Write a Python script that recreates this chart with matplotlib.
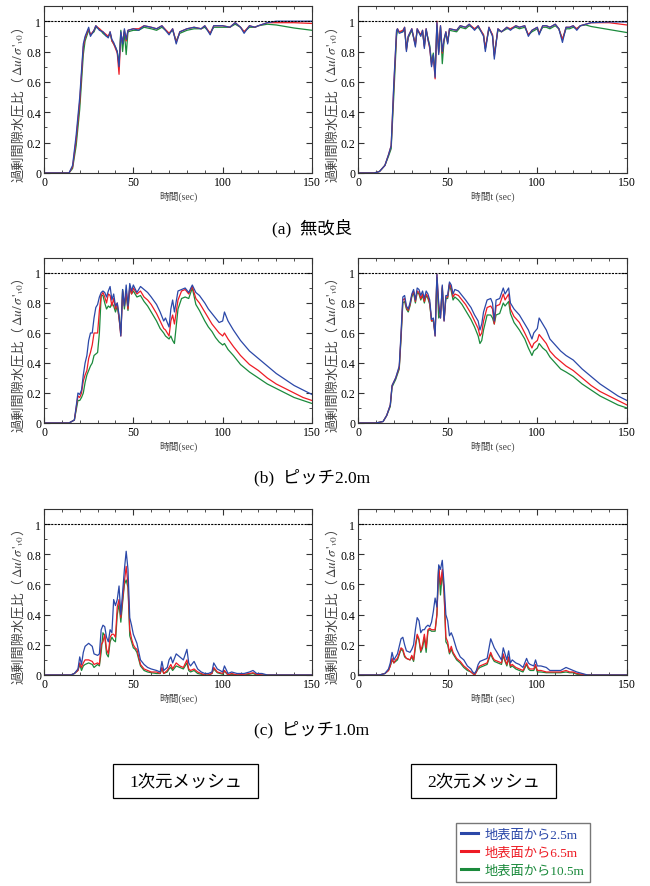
import matplotlib
matplotlib.use("Agg")
import matplotlib.pyplot as plt
from matplotlib.lines import Line2D
from matplotlib.patches import Rectangle
from matplotlib.ticker import MultipleLocator

plt.rcParams['font.family'] = ['Liberation Serif', 'Noto Sans CJK JP', 'DejaVu Sans']
plt.rcParams['mathtext.fontset'] = 'stix'

# series labels / colours
labels = ['地表面から2.5m', '地表面から6.5m', '地表面から10.5m']
colors = ['#2b48a8', '#ee1c25', '#1b8a3c']

# (a) 1D mesh, no improvement
t_a1 = [0, 14, 16, 18, 20, 22, 23, 25, 26, 28,
        29, 31, 33, 35, 36, 37, 38, 39, 40, 41,
        42, 43, 44, 45, 46, 47, 50, 53, 56, 60,
        63, 66, 70, 72, 74, 76, 80, 84, 88, 90,
        93, 95, 100, 104, 107, 110, 112, 115, 118, 120,
        125, 130, 140, 150]
a1_25 = [0, 0, 0.05, 0.25, 0.50, 0.85, 0.90, 0.96, 0.90, 0.94,
         0.97, 0.94, 0.93, 0.90, 0.89, 0.93, 0.88, 0.86, 0.83, 0.80,
         0.70, 0.93, 0.85, 0.95, 0.88, 0.94, 0.95, 0.94, 0.97, 0.96,
         0.95, 0.97, 0.91, 0.95, 0.85, 0.93, 0.95, 0.96, 0.95, 0.97,
         0.91, 0.97, 0.97, 0.96, 0.99, 0.96, 0.92, 0.97, 0.96, 0.97,
         0.99, 1.00, 1.00, 1.00]
a1_65 = [0, 0, 0.04, 0.22, 0.47, 0.83, 0.89, 0.95, 0.91, 0.94,
         0.97, 0.95, 0.93, 0.91, 0.90, 0.93, 0.87, 0.85, 0.82, 0.79,
         0.65, 0.92, 0.86, 0.94, 0.87, 0.94, 0.95, 0.95, 0.97, 0.96,
         0.95, 0.97, 0.92, 0.95, 0.86, 0.93, 0.95, 0.96, 0.95, 0.97,
         0.92, 0.97, 0.97, 0.96, 0.99, 0.96, 0.93, 0.97, 0.96, 0.97,
         0.99, 0.99, 0.99, 0.985]
a1_105 = [0, 0, 0.03, 0.18, 0.42, 0.78, 0.87, 0.94, 0.91, 0.93,
          0.96, 0.95, 0.92, 0.90, 0.90, 0.92, 0.87, 0.85, 0.83, 0.80,
          0.72, 0.94, 0.80, 0.93, 0.78, 0.93, 0.94, 0.94, 0.96, 0.95,
          0.94, 0.96, 0.92, 0.94, 0.87, 0.92, 0.94, 0.95, 0.95, 0.96,
          0.92, 0.96, 0.96, 0.96, 0.98, 0.96, 0.93, 0.96, 0.96, 0.97,
          0.98, 0.975, 0.955, 0.94]

# (a) 2D mesh, no improvement
t_a2 = [0, 9, 12, 15, 17, 18.5, 20, 21.5, 22, 23,
        25, 26, 27, 28, 30, 32, 33, 35, 36, 37,
        38, 39, 40, 41, 42, 43, 44, 45, 46, 47,
        48, 49, 50, 51, 55, 57, 60, 62, 65, 67,
        70, 71, 73, 75, 76, 78, 80, 83, 85, 88,
        90, 93, 95, 97, 100, 101, 103, 105, 107, 110,
        112, 114, 116, 118, 120, 122, 124, 127, 130, 140,
        150]
a2_25 = [0, 0, 0.01, 0.05, 0.12, 0.18, 0.60, 0.94, 0.95, 0.92,
         0.93, 0.96, 0.80, 0.90, 0.95, 0.83, 0.95, 0.90, 0.94, 0.82,
         0.95, 0.88, 0.83, 0.70, 0.78, 0.63, 0.99, 0.78, 0.97, 0.80,
         0.88, 0.93, 0.85, 0.95, 0.94, 0.97, 0.96, 0.98, 0.94, 0.97,
         0.90, 0.80, 0.96, 0.90, 0.75, 0.95, 0.93, 0.96, 0.94, 0.97,
         0.96, 0.97, 0.90, 0.94, 0.96, 0.91, 0.97, 0.97, 0.96, 0.98,
         0.95, 0.86, 0.96, 0.96, 0.97, 0.94, 0.97, 0.98, 0.99, 0.995,
         0.995]
a2_65 = [0, 0, 0.01, 0.05, 0.12, 0.18, 0.58, 0.93, 0.95, 0.93,
         0.94, 0.96, 0.81, 0.90, 0.95, 0.84, 0.95, 0.91, 0.94, 0.83,
         0.95, 0.88, 0.82, 0.71, 0.77, 0.62, 1.00, 0.79, 0.97, 0.79,
         0.88, 0.93, 0.86, 0.95, 0.94, 0.97, 0.96, 0.98, 0.95, 0.97,
         0.91, 0.82, 0.96, 0.91, 0.77, 0.95, 0.93, 0.96, 0.95, 0.97,
         0.96, 0.97, 0.91, 0.94, 0.96, 0.92, 0.97, 0.97, 0.96, 0.98,
         0.95, 0.88, 0.96, 0.96, 0.97, 0.95, 0.97, 0.98, 0.99, 0.99,
         0.975]
a2_105 = [0, 0, 0.01, 0.05, 0.11, 0.16, 0.52, 0.90, 0.94, 0.93,
          0.93, 0.95, 0.82, 0.89, 0.94, 0.85, 0.94, 0.91, 0.93, 0.84,
          0.94, 0.89, 0.84, 0.73, 0.79, 0.66, 0.97, 0.80, 0.96, 0.72,
          0.87, 0.92, 0.86, 0.94, 0.93, 0.96, 0.95, 0.97, 0.95, 0.96,
          0.91, 0.82, 0.95, 0.91, 0.78, 0.94, 0.93, 0.95, 0.95, 0.96,
          0.95, 0.96, 0.91, 0.93, 0.95, 0.92, 0.96, 0.96, 0.95, 0.97,
          0.95, 0.88, 0.95, 0.95, 0.96, 0.95, 0.97, 0.975, 0.965, 0.945,
          0.925]

# (b) 1D mesh, pitch 2.0m
t_b1 = [0, 14, 17, 19, 20, 21, 22, 23, 24, 25,
        26, 27, 28, 29, 30, 31, 32, 33, 34, 35,
        36, 37, 38, 39, 40, 41, 42, 43, 44, 45,
        46, 47, 48, 49, 50, 52, 54, 56, 58, 60,
        63, 65, 67, 68, 70, 71, 72, 73, 75, 77,
        79, 81, 83, 85, 87, 90, 92, 94, 96, 98,
        100, 101, 103, 106, 110, 115, 120, 125, 130, 135,
        140, 145, 150]
b1_25 = [0, 0, 0.02, 0.20, 0.19, 0.22, 0.32, 0.40, 0.45, 0.55,
         0.60, 0.60, 0.70, 0.77, 0.79, 0.84, 0.87, 0.88, 0.87, 0.84,
         0.88, 0.91, 0.82, 0.86, 0.78, 0.80, 0.72, 0.58, 0.89, 0.78,
         0.92, 0.78, 0.93, 0.88, 0.92, 0.87, 0.91, 0.89, 0.87, 0.84,
         0.79, 0.74, 0.68, 0.70, 0.64, 0.76, 0.82, 0.74, 0.88, 0.89,
         0.90, 0.87, 0.92, 0.87, 0.85, 0.80, 0.76, 0.73, 0.70, 0.67,
         0.68, 0.74, 0.68, 0.62, 0.55, 0.48, 0.43, 0.38, 0.33, 0.29,
         0.25, 0.22, 0.19]
b1_65 = [0, 0, 0.02, 0.18, 0.17, 0.20, 0.28, 0.32, 0.35, 0.43,
         0.47, 0.52, 0.60, 0.60, 0.60, 0.75, 0.85, 0.87, 0.84, 0.80,
         0.86, 0.85, 0.78, 0.83, 0.76, 0.80, 0.70, 0.58, 0.88, 0.78,
         0.88, 0.76, 0.91, 0.86, 0.90, 0.86, 0.88, 0.84, 0.82, 0.79,
         0.73, 0.68, 0.63, 0.62, 0.58, 0.68, 0.72, 0.66, 0.82, 0.88,
         0.89, 0.86, 0.91, 0.83, 0.80, 0.74, 0.70, 0.66, 0.63, 0.60,
         0.58, 0.60, 0.56, 0.51, 0.45, 0.39, 0.35, 0.30, 0.26, 0.23,
         0.20, 0.17, 0.15]
b1_105 = [0, 0, 0.02, 0.15, 0.15, 0.17, 0.20, 0.27, 0.32, 0.35,
          0.38, 0.40, 0.45, 0.46, 0.47, 0.60, 0.85, 0.85, 0.80, 0.76,
          0.78, 0.77, 0.80, 0.78, 0.74, 0.78, 0.70, 0.60, 0.89, 0.76,
          0.86, 0.75, 0.90, 0.86, 0.88, 0.84, 0.85, 0.81, 0.78, 0.74,
          0.68, 0.63, 0.60, 0.58, 0.56, 0.58, 0.55, 0.53, 0.76, 0.83,
          0.84, 0.83, 0.90, 0.79, 0.75, 0.68, 0.64, 0.61, 0.57, 0.54,
          0.52, 0.53, 0.49, 0.45, 0.39, 0.34, 0.30, 0.26, 0.23, 0.20,
          0.17, 0.15, 0.13]

# (b) 2D mesh, pitch 2.0m
t_b2 = [0, 10, 14, 16, 18, 19, 21, 23, 24, 25,
        26, 27, 28, 29, 30, 31, 32, 33, 34, 35,
        36, 37, 38, 39, 40, 41, 42, 43, 44, 45,
        46, 47, 48, 49, 50, 51, 52, 53, 54, 56,
        58, 60, 63, 65, 67, 68, 69, 70, 72, 74,
        75, 76, 77, 79, 81, 82, 84, 85, 87, 90,
        93, 95, 97, 98, 100, 101, 103, 105, 107, 110,
        113, 116, 120, 125, 130, 135, 140, 145, 150]
b2_25 = [0, 0, 0.01, 0.05, 0.12, 0.25, 0.30, 0.38, 0.60, 0.84,
         0.85, 0.78, 0.76, 0.80, 0.86, 0.89, 0.82, 0.90, 0.89, 0.85,
         0.88, 0.83, 0.88, 0.86, 0.82, 0.69, 0.70, 0.58, 0.99, 0.80,
         0.70, 0.92, 0.68, 0.85, 0.85, 0.94, 0.92, 0.86, 0.89, 0.88,
         0.85, 0.82, 0.77, 0.72, 0.68, 0.62, 0.66, 0.74, 0.82, 0.83,
         0.80, 0.68, 0.82, 0.83, 0.90, 0.86, 0.90, 0.80, 0.76, 0.72,
         0.66, 0.62, 0.56, 0.60, 0.63, 0.70, 0.66, 0.62, 0.56, 0.52,
         0.48, 0.45, 0.42, 0.36, 0.31, 0.26, 0.22, 0.18, 0.15]
b2_65 = [0, 0, 0.01, 0.05, 0.12, 0.25, 0.30, 0.37, 0.58, 0.82,
         0.83, 0.77, 0.75, 0.79, 0.85, 0.88, 0.81, 0.88, 0.87, 0.83,
         0.86, 0.81, 0.86, 0.84, 0.80, 0.68, 0.69, 0.58, 0.99, 0.78,
         0.70, 0.91, 0.68, 0.84, 0.84, 0.93, 0.90, 0.84, 0.86, 0.85,
         0.82, 0.79, 0.73, 0.68, 0.63, 0.58, 0.60, 0.68, 0.77, 0.78,
         0.76, 0.66, 0.78, 0.79, 0.86, 0.82, 0.86, 0.76, 0.71, 0.67,
         0.60, 0.55, 0.50, 0.53, 0.55, 0.59, 0.56, 0.53, 0.48, 0.44,
         0.41, 0.38, 0.35, 0.30, 0.25, 0.21, 0.18, 0.15, 0.12]
b2_105 = [0, 0, 0.01, 0.05, 0.11, 0.24, 0.29, 0.36, 0.56, 0.80,
          0.81, 0.76, 0.74, 0.78, 0.84, 0.87, 0.80, 0.87, 0.86, 0.82,
          0.85, 0.80, 0.85, 0.83, 0.79, 0.68, 0.68, 0.60, 0.97, 0.70,
          0.72, 0.90, 0.69, 0.83, 0.83, 0.92, 0.88, 0.82, 0.84, 0.82,
          0.79, 0.75, 0.69, 0.64, 0.58, 0.53, 0.55, 0.62, 0.72, 0.72,
          0.70, 0.66, 0.72, 0.73, 0.80, 0.78, 0.81, 0.73, 0.67, 0.62,
          0.56, 0.50, 0.45, 0.48, 0.50, 0.53, 0.50, 0.48, 0.44, 0.40,
          0.36, 0.34, 0.31, 0.26, 0.22, 0.18, 0.15, 0.12, 0.10]

# (c) 1D mesh, pitch 1.0m
t_c1 = [0, 15, 17, 19, 20, 21, 22, 23, 25, 27,
        28, 30, 31, 32, 33, 34, 35, 36, 37, 38,
        39, 40, 41, 42, 43, 44, 45, 46, 47, 48,
        49, 50, 51, 52, 54, 56, 58, 60, 63, 65,
        66, 67, 69, 70, 71, 72, 74, 76, 78, 80,
        81, 82, 84, 86, 88, 90, 92, 94, 95, 97,
        100, 101, 103, 105, 108, 112, 115, 117, 119, 122,
        125, 150]
c1_25 = [0, 0, 0.01, 0.04, 0.12, 0.07, 0.15, 0.19, 0.21, 0.19,
         0.14, 0.13, 0.14, 0.30, 0.33, 0.32, 0.25, 0.22, 0.30, 0.28,
         0.50, 0.46, 0.50, 0.59, 0.40, 0.55, 0.70, 0.82, 0.70, 0.38,
         0.33, 0.27, 0.24, 0.21, 0.10, 0.07, 0.05, 0.04, 0.03, 0.02,
         0.09, 0.03, 0.05, 0.10, 0.12, 0.08, 0.14, 0.12, 0.10, 0.17,
         0.08, 0.06, 0.09, 0.04, 0.02, 0.01, 0.01, 0.02, 0.08, 0.04,
         0.02, 0.06, 0.01, 0.02, 0.01, 0.01, 0.02, 0.03, 0.01, 0.01,
         0, 0]
c1_65 = [0, 0, 0.01, 0.03, 0.08, 0.05, 0.08, 0.10, 0.10, 0.09,
         0.07, 0.08, 0.07, 0.20, 0.22, 0.27, 0.17, 0.14, 0.25, 0.27,
         0.27, 0.25, 0.45, 0.50, 0.38, 0.50, 0.62, 0.72, 0.60, 0.30,
         0.24, 0.20, 0.18, 0.17, 0.07, 0.04, 0.03, 0.02, 0.02, 0.01,
         0.05, 0.01, 0.03, 0.05, 0.07, 0.04, 0.08, 0.06, 0.05, 0.10,
         0.04, 0.03, 0.04, 0.02, 0.01, 0, 0, 0.01, 0.05, 0.02,
         0.01, 0.03, 0, 0.01, 0, 0.005, 0.01, 0.015, 0.005, 0,
         0, 0]
c1_105 = [0, 0, 0.01, 0.03, 0.07, 0.03, 0.06, 0.07, 0.08, 0.07,
          0.05, 0.07, 0.06, 0.15, 0.28, 0.26, 0.14, 0.12, 0.22, 0.25,
          0.23, 0.22, 0.40, 0.47, 0.35, 0.48, 0.60, 0.63, 0.58, 0.26,
          0.22, 0.18, 0.17, 0.15, 0.06, 0.03, 0.02, 0.015, 0.01, 0.01,
          0.04, 0.01, 0.02, 0.04, 0.05, 0.03, 0.06, 0.05, 0.04, 0.08,
          0.03, 0.02, 0.03, 0.01, 0.005, 0, 0, 0.01, 0.04, 0.015,
          0.005, 0.025, 0, 0.005, 0, 0, 0.005, 0.01, 0, 0,
          0, 0]

# (c) 2D mesh, pitch 1.0m
t_c2 = [0, 12, 15, 17, 18, 19, 20, 21, 22, 24,
        25, 26, 27, 29, 30, 31, 32, 33, 34, 35,
        36, 37, 38, 39, 40, 41, 42, 43, 44, 45,
        46, 47, 48, 49, 50, 51, 52, 53, 55, 57,
        59, 61, 63, 64, 65, 66, 67, 68, 70, 72,
        74, 75, 76, 78, 80, 81, 82, 83, 84, 85,
        86, 88, 90, 92, 94, 95, 96, 98, 99, 100,
        102, 105, 107, 110, 113, 116, 118, 120, 122, 125,
        128, 150]
c2_25 = [0, 0, 0.01, 0.04, 0.08, 0.15, 0.10, 0.12, 0.14, 0.24,
         0.25, 0.20, 0.16, 0.15, 0.17, 0.20, 0.30, 0.38, 0.36, 0.28,
         0.30, 0.30, 0.32, 0.33, 0.32, 0.35, 0.42, 0.51, 0.45, 0.73,
         0.70, 0.76, 0.60, 0.40, 0.36, 0.26, 0.28, 0.25, 0.17, 0.12,
         0.10, 0.06, 0.04, 0.02, 0.01, 0.03, 0.07, 0.09, 0.10, 0.11,
         0.24, 0.21, 0.18, 0.14, 0.10, 0.18, 0.14, 0.10, 0.16, 0.08,
         0.10, 0.08, 0.07, 0.05, 0.11, 0.08, 0.07, 0.06, 0.10, 0.06,
         0.06, 0.05, 0.03, 0.03, 0.03, 0.05, 0.04, 0.03, 0.02, 0.01,
         0, 0]
c2_65 = [0, 0, 0.01, 0.03, 0.06, 0.11, 0.08, 0.10, 0.11, 0.18,
         0.17, 0.13, 0.11, 0.10, 0.13, 0.10, 0.20, 0.27, 0.24, 0.16,
         0.20, 0.27, 0.18, 0.30, 0.31, 0.30, 0.30, 0.30, 0.40, 0.72,
         0.60, 0.70, 0.55, 0.25, 0.22, 0.15, 0.19, 0.15, 0.11, 0.09,
         0.06, 0.04, 0.02, 0.01, 0, 0.02, 0.05, 0.06, 0.07, 0.08,
         0.15, 0.12, 0.10, 0.09, 0.08, 0.14, 0.10, 0.07, 0.12, 0.06,
         0.07, 0.05, 0.04, 0.03, 0.08, 0.05, 0.04, 0.04, 0.07, 0.03,
         0.03, 0.02, 0.02, 0.02, 0.02, 0.03, 0.02, 0.02, 0.01, 0.005,
         0, 0]
c2_105 = [0, 0, 0.01, 0.03, 0.06, 0.10, 0.08, 0.09, 0.10, 0.17,
          0.16, 0.12, 0.11, 0.10, 0.12, 0.09, 0.18, 0.26, 0.23, 0.15,
          0.18, 0.25, 0.15, 0.29, 0.30, 0.29, 0.29, 0.29, 0.40, 0.72,
          0.53, 0.68, 0.55, 0.22, 0.20, 0.14, 0.17, 0.14, 0.10, 0.08,
          0.05, 0.03, 0.02, 0.01, 0, 0.02, 0.04, 0.05, 0.06, 0.07,
          0.14, 0.11, 0.09, 0.08, 0.07, 0.13, 0.09, 0.06, 0.11, 0.05,
          0.06, 0.04, 0.03, 0.02, 0.07, 0.04, 0.03, 0.03, 0.06, 0.02,
          0.02, 0.015, 0.015, 0.015, 0.015, 0.02, 0.015, 0.015, 0.005, 0,
          0, 0]

captions = ['(a)  無改良', '(b)  ピッチ2.0m', '(c)  ピッチ1.0m']
mesh_names = ['1次元メッシュ', '2次元メッシュ']

W, H = 650, 887
fig = plt.figure(figsize=(W / 100, H / 100), dpi=100)

# panel boxes in pixels: (left, right) and (top, bottom)
cols = [(44, 312), (358, 627)]
rows = [(7, 174), (259, 424), (510, 676)]

panels = [
    [(t_a1, [a1_25, a1_65, a1_105]), (t_a2, [a2_25, a2_65, a2_105])],
    [(t_b1, [b1_25, b1_65, b1_105]), (t_b2, [b2_25, b2_65, b2_105])],
    [(t_c1, [c1_25, c1_65, c1_105]), (t_c2, [c2_25, c2_65, c2_105])],
]

# y label in three pieces: CJK text, math, closing paren
ylab_parts = ['過剰間隙水圧比（', '$\\Delta u/\\,\\sigma\\,\'_{v0}$', '）']
xlabs = ['時間(sec)', '時間t (sec)']

ylabels = []
for r, (top, bot) in enumerate(rows):
    for c, (lft, rgt) in enumerate(cols):
        ax = fig.add_axes([lft / W, 1 - bot / H, (rgt - lft) / W, (bot - top) / H])
        t, series = panels[r][c]
        # deepest first so blue ends on top
        for i in [2, 1, 0]:
            ax.plot(t, series[i], color=colors[i], lw=0.9)
        ax.plot([0, 150], [1, 1], color='black', lw=0.8, ls=(0, (2, 1)))
        ax.set_xlim(0, 150)
        ax.set_ylim(0, 1.1)
        ax.set_xticks([0, 50, 100, 150])
        ax.set_yticks([0, 0.2, 0.4, 0.6, 0.8, 1.0])
        ax.set_yticklabels(['0', '0.2', '0.4', '0.6', '0.8', '1'])
        ax.xaxis.set_minor_locator(MultipleLocator(10))
        ax.yaxis.set_minor_locator(MultipleLocator(0.1))
        ax.tick_params(which='both', direction='in', top=True, right=True,
                       labelsize=8.5, pad=2, color='#333333')
        ax.tick_params(which='major', length=4)
        ax.tick_params(which='minor', length=2)
        for s in ax.spines.values():
            s.set_linewidth(0.8)
            s.set_color('#333333')
        ax.set_xlabel(xlabs[c], fontsize=7, labelpad=2, color='#444444')
        parts = [ax.text(-0.093, 0, p, rotation=90, ha='center', va='bottom',
                         transform=ax.transAxes, fontsize=9.5, color='#444444')
                 for p in ylab_parts]
        ylabels.append((ax, parts))

# stack the label pieces end to end, centred a bit below mid-height
fig.canvas.draw()
rend = fig.canvas.get_renderer()
for ax, parts in ylabels:
    axh = ax.get_window_extent(rend).height
    hs = [p.get_window_extent(rend).height for p in parts]
    y = 0.44 - sum(hs) / 2 / axh
    for p, h in zip(parts, hs):
        p.set_y(y)
        y += h / axh

# captions under each row
for r, cap in enumerate(captions):
    fig.text(312 / W, 1 - (rows[r][1] + 54) / H, cap, ha='center', va='center', fontsize=12.5)

# mesh name boxes
for x0, name in zip([113, 411], mesh_names):
    fig.add_artist(Rectangle((x0 / W, 1 - 799 / H), 145 / W, 34 / H, transform=fig.transFigure,
                             fill=False, ec='black', lw=0.9))
    fig.text((x0 + 72.5) / W, 1 - 782 / H, name, ha='center', va='center', fontsize=12.5)

handles = [Line2D([], [], color=col, lw=2.2) for col in colors]
fig.legend(handles, labels, loc='upper left', bbox_to_anchor=(456 / W, 1 - 824 / H),
           fontsize=9.5, frameon=True, fancybox=False, edgecolor='#555555',
           handlelength=1.3, handletextpad=0.5, labelspacing=0.45,
           borderaxespad=0, borderpad=0.4, labelcolor='linecolor')

fig.savefig('out.png', dpi=100)
